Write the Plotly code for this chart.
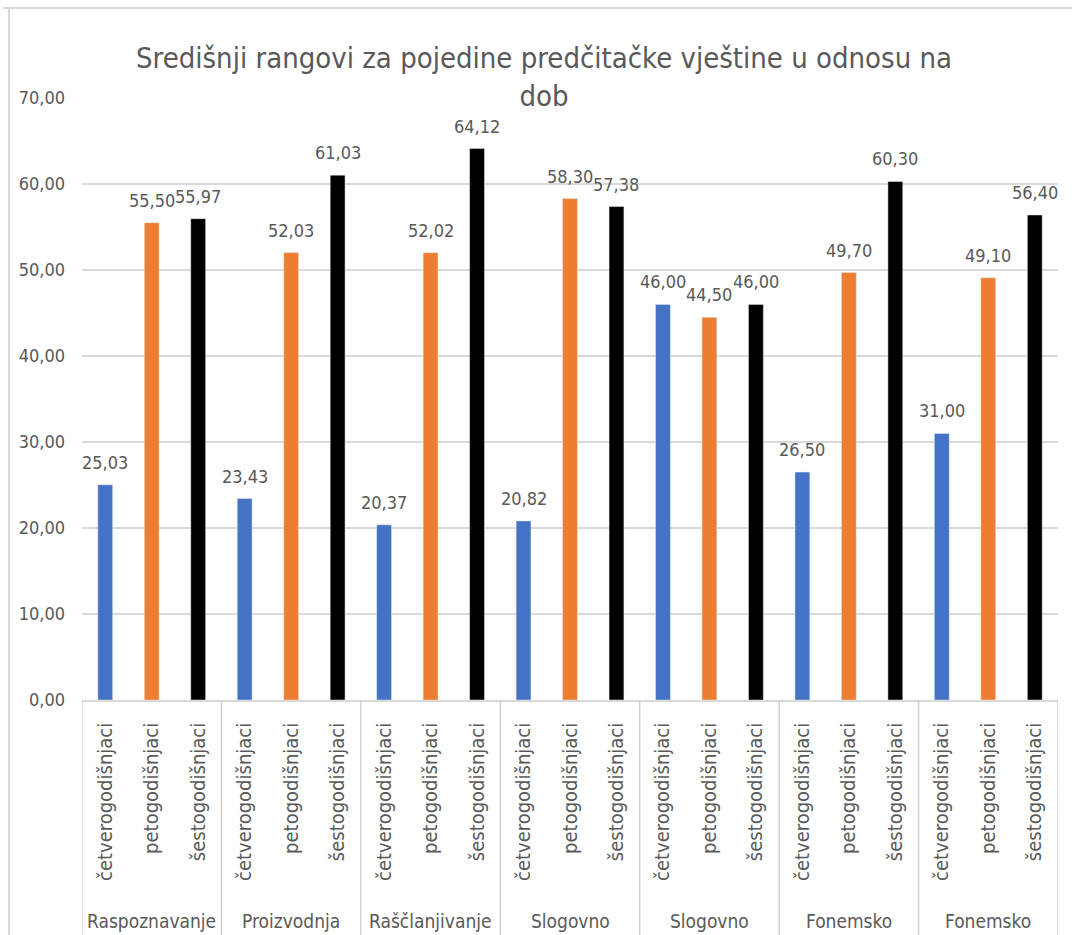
import plotly.graph_objects as go

groups = ["Raspoznavanje", "Proizvodnja", "Raščlanjivanje", "Slogovno", "Slogovno", "Fonemsko", "Fonemsko"]
series_names = ["četverogodišnjaci", "petogodišnjaci", "šestogodišnjaci"]
cetvero = [25.03, 23.43, 20.37, 20.82, 46.00, 26.50, 31.00]
peto = [55.50, 52.03, 52.02, 58.30, 44.50, 49.70, 49.10]
sesto = [55.97, 61.03, 64.12, 57.38, 46.00, 60.30, 56.40]
colors = ["#4472C4", "#ED7D31", "#000000"]
title_text = "Središnji rangovi za pojedine predčitačke vještine u odnosu na<br>dob"

FONT = "Liberation Sans Narrow, Arial Narrow, DejaVu Sans Condensed, sans-serif"
GRAY = "#595959"

W, H = 1072, 935
L, R, T, B = 82, 14, 98, 235
plot_w = W - L - R
plot_h = H - T - B

fig = go.Figure()
all_series = [cetvero, peto, sesto]
annotations = []
for k, (name, vals, col) in enumerate(zip(series_names, all_series, colors)):
    xs = [3 * g + k for g in range(len(groups))]
    fig.add_trace(go.Bar(
        x=xs, y=vals, name=name, marker_color=col, width=0.32,
    ))
    for x, v in zip(xs, vals):
        annotations.append(dict(x=x, y=v, xref="x", yref="y", text=f"{v:.2f}".replace(".", ","),
                                showarrow=False, yanchor="bottom", yshift=10,
                                font=dict(family=FONT, size=18, color=GRAY)))

tickvals = list(range(3 * len(groups)))
ticktext = [series_names[i % 3] for i in tickvals]

def px_to_xpaper(px):
    return (px - L) / plot_w

def py_to_ypaper(py):
    return (H - B - py) / plot_h

shapes = []
for g in range(len(groups) + 1):
    shapes.append(dict(type="line", xref="x", yref="paper",
                       x0=3 * g - 0.5, x1=3 * g - 0.5,
                       y0=0, y1=py_to_ypaper(H),
                       line=dict(color="#D0D0D0", width=1.5)))
# chart area border (top and left)
shapes.append(dict(type="line", xref="paper", yref="paper",
                   x0=px_to_xpaper(3), x1=px_to_xpaper(W), y0=py_to_ypaper(8), y1=py_to_ypaper(8),
                   line=dict(color="#D9D9D9", width=2)))
shapes.append(dict(type="line", xref="paper", yref="paper",
                   x0=px_to_xpaper(9), x1=px_to_xpaper(9), y0=py_to_ypaper(8), y1=py_to_ypaper(H),
                   line=dict(color="#D9D9D9", width=2)))

for g, name in enumerate(groups):
    annotations.append(dict(x=3 * g + 1, y=py_to_ypaper(921), xref="x", yref="paper",
                            text=name, showarrow=False, yanchor="middle",
                            font=dict(family=FONT, size=19, color=GRAY)))

fig.update_layout(
    width=W, height=H,
    margin=dict(l=L, r=R, t=T, b=B, autoexpand=False),
    plot_bgcolor="white", paper_bgcolor="white",
    separators=", ",
    barmode="overlay",
    showlegend=False,
    title=dict(text=title_text, x=544 / W, xanchor="center", xref="container",
               y=1 - 68 / H, yanchor="top", yref="container",
               font=dict(family=FONT, size=29, color=GRAY)),
    xaxis=dict(range=[-0.5, 3 * len(groups) - 0.5], tickvals=tickvals, ticktext=ticktext,
               tickangle=-90, ticks="", showgrid=False, zeroline=False,
               showline=True, linecolor="#D9D9D9", linewidth=1.5,
               ticklabelstandoff=13,
               tickfont=dict(family=FONT, size=20, color=GRAY)),
    yaxis=dict(range=[0, 70], dtick=10, tickformat=".2f", showgrid=True,
               gridcolor="#D9D9D9", gridwidth=2, zeroline=False, showline=False,
               ticks="", ticklabelstandoff=16,
               tickfont=dict(family=FONT, size=18, color=GRAY)),
    shapes=shapes, annotations=annotations,
)

fig.write_html("out.html", config={"displayModeBar": False},
               post_script="document.body.style.margin='0';document.body.style.padding='0';")
